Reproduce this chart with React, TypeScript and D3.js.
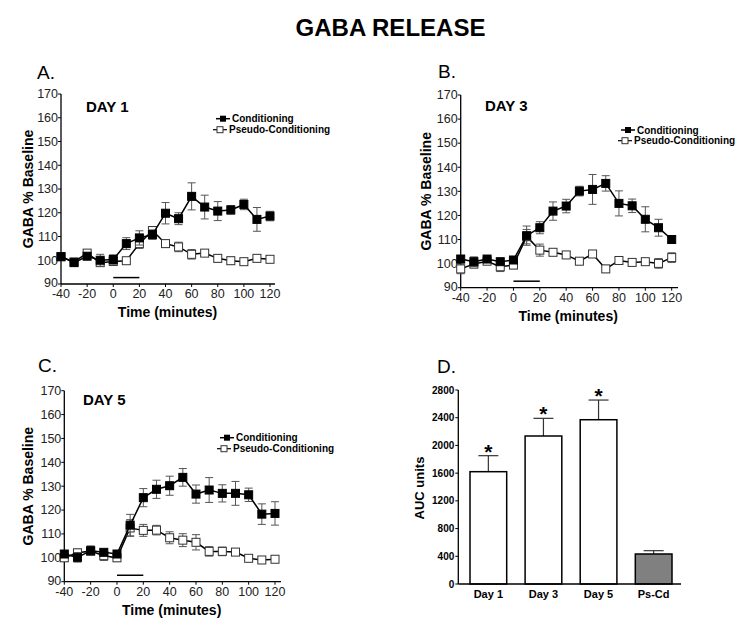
import React from "react";
import * as d3 from "d3";

const timePoints = [-40, -30, -20, -10, 0, 10, 20, 30, 40, 50, 60, 70, 80, 90, 100, 110, 120];

const day1Cond = [101.5, 99, 101.7, 100, 100.3, 107, 109.4, 110.8, 119.8, 117.5, 126.9, 122.4, 120.7, 121.2, 123.5, 117.2, 118.6];
const day1CondErr = [1, 1.5, 1, 2.5, 2, 2.5, 3, 2, 4.5, 2.5, 5.7, 5, 4, 1.8, 2.2, 5, 2];
const day1Pseudo = [101.5, 99.3, 103, 99, 99.5, 99.8, 107, 112.5, 107, 105.6, 102.5, 103, 100.8, 99.8, 99.4, 100.8, 100.4];
const day1PseudoErr = [1, 1.5, 1, 1.5, 1.5, 1, 2, 1.5, 1.5, 2, 2, 1, 1.5, 1.5, 1, 1, 1];

const day3Cond = [101.9, 100.8, 101.9, 100.8, 101.5, 111.6, 114.9, 121.8, 123.9, 130.1, 130.8, 133.3, 125, 124, 118.4, 114.9, 110];
const day3CondErr = [1.5, 2, 1, 1, 1, 4, 2.5, 3.8, 2.8, 2, 6.2, 3.2, 5.2, 2.8, 5.2, 3.5, 1];
const day3Pseudo = [97.8, 99.8, 101, 98.7, 99.4, 111.2, 105.6, 104.7, 103.6, 101, 104, 97.8, 101.3, 100.5, 100.8, 100.1, 102.5];
const day3PseudoErr = [2, 1.5, 1, 2, 1.5, 3, 2.5, 1, 1, 1, 1, 1.5, 1, 1, 1, 2, 2];

const day5Cond = [101.6, 100.2, 103, 102.3, 101.6, 113.7, 125.2, 128.7, 130.2, 133.7, 126.7, 128.4, 127, 127, 126.4, 118.3, 118.6];
const day5CondErr = [1.2, 2, 2, 1, 1, 4.5, 3.8, 3.8, 4, 3.7, 3.8, 5.2, 3.6, 5, 2.8, 4.3, 4.9];
const day5Pseudo = [100, 102.1, 102.8, 100.9, 100, 112.5, 111.5, 111.6, 108.4, 107.4, 106.5, 102.7, 102.7, 102.4, 99.8, 99.1, 99.4];
const day5PseudoErr = [1.5, 1.5, 1.5, 2, 1.5, 3.5, 2.5, 2, 2.5, 2.7, 3.2, 2, 1.8, 1, 1, 1, 1];

const yTicksLine = [90, 100, 110, 120, 130, 140, 150, 160, 170];
const xTicksLine = [-40, -20, 0, 20, 40, 60, 80, 100, 120];
const stimulus = [0, 20];
const stimulusLevel = 92.7;

const aucCategories = ["Day 1", "Day 3", "Day 5", "Ps-Cd"];
const aucValues = [1621, 2136, 2371, 433];
const aucErr = [231, 255, 284, 48];
const aucSignificant = [true, true, true, false];
const aucTicks = [0, 400, 800, 1200, 1600, 2000, 2400, 2800];

const FONT = "'Liberation Sans', Arial, Helvetica, sans-serif";

type LineProps = {
  left: number; right: number; top: number; bottom: number; axisEnd: number; titleOff: number;
  cond: number[]; condErr: number[]; pseudo: number[]; pseudoErr: number[];
  day: string; dayX: number; dayY: number;
  letter: string; letterX: number; letterY: number;
  legX: number; legY: number; legGap: number;
};

function LinePanel(p: LineProps) {
  const x = d3.scaleLinear().domain([-40, 120]).range([p.left, p.right]);
  const y = d3.scaleLinear().domain([90, 170]).range([p.bottom, p.top]);
  const line = d3.line<number>().x((_, i) => x(timePoints[i])).y((d) => y(d));
  const errColor = "#555";
  const sq = 8;
  const series = [
    { vals: p.pseudo, err: p.pseudoErr, filled: false },
    { vals: p.cond, err: p.condErr, filled: true },
  ];
  return (
    <g>
      <text x={p.letterX} y={p.letterY} fontSize={19} fontFamily={FONT}>{p.letter}</text>
      <text x={p.dayX} y={p.dayY} fontSize={15} fontWeight="bold" fontFamily={FONT}>{p.day}</text>
      <line x1={p.left} x2={p.left} y1={p.top} y2={p.bottom} stroke="#000" strokeWidth={1.3} />
      <line x1={p.left} x2={p.axisEnd} y1={p.bottom} y2={p.bottom} stroke="#000" strokeWidth={1.3} />
      {yTicksLine.map((t) => (
        <g key={"y" + t}>
          <line x1={p.left - 3} x2={p.left} y1={y(t)} y2={y(t)} stroke="#000" strokeWidth={1} />
          <text x={p.left - 3} y={y(t) + (t === 90 ? 3 : 4.3)} fontSize={12.5} textAnchor="end" fontFamily={FONT} fill="#222">{t}</text>
        </g>
      ))}
      {xTicksLine.map((t) => (
        <g key={"x" + t}>
          <line x1={x(t)} x2={x(t)} y1={p.bottom} y2={p.bottom + 3} stroke="#000" strokeWidth={1} />
          <text x={x(t)} y={p.bottom + 14} fontSize={12.5} textAnchor="middle" fontFamily={FONT} fill="#222">{t}</text>
        </g>
      ))}
      <text x={(p.left + p.right) / 2 + 2} y={p.bottom + 33} fontSize={14} fontWeight="bold" textAnchor="middle" fontFamily={FONT}>Time (minutes)</text>
      <text transform={`translate(${p.left - p.titleOff},${(p.top + p.bottom) / 2}) rotate(-90)`} fontSize={14} fontWeight="bold" textAnchor="middle" fontFamily={FONT}>GABA % Baseline</text>
      <line x1={x(stimulus[0])} x2={x(stimulus[1])} y1={y(stimulusLevel)} y2={y(stimulusLevel)} stroke="#000" strokeWidth={1.5} />
      {series.map((s, si) => (
        <g key={si}>
          {s.vals.map((v, i) => (
            <g key={i} stroke={errColor} strokeWidth={1}>
              <line x1={x(timePoints[i])} x2={x(timePoints[i])} y1={y(v - s.err[i])} y2={y(v + s.err[i])} />
              <line x1={x(timePoints[i]) - 4} x2={x(timePoints[i]) + 4} y1={y(v + s.err[i])} y2={y(v + s.err[i])} />
              <line x1={x(timePoints[i]) - 4} x2={x(timePoints[i]) + 4} y1={y(v - s.err[i])} y2={y(v - s.err[i])} />
            </g>
          ))}
          <path d={line(s.vals) || ""} fill="none" stroke="#000" strokeWidth={1.5} />
          {s.vals.map((v, i) => (
            <rect key={"r" + i} x={x(timePoints[i]) - sq / 2} y={y(v) - sq / 2} width={sq} height={sq}
              fill={s.filled ? "#000" : "#fff"} stroke={s.filled ? "#000" : "#333"} strokeWidth={1} />
          ))}
        </g>
      ))}
      <g>
        <line x1={p.legX} x2={p.legX + 14} y1={p.legY} y2={p.legY} stroke="#000" strokeWidth={1.5} />
        <rect x={p.legX + 4} y={p.legY - 3} width={6} height={6} fill="#000" />
        <text x={p.legX + 16} y={p.legY + 3.5} fontSize={10} fontWeight="bold" fontFamily={FONT}>Conditioning</text>
        <line x1={p.legX - 3} x2={p.legX + 11} y1={p.legY + p.legGap} y2={p.legY + p.legGap} stroke="#000" strokeWidth={1.2} />
        <rect x={p.legX + 1} y={p.legY + p.legGap - 3} width={6} height={6} fill="#fff" stroke="#333" strokeWidth={1} />
        <text x={p.legX + 13} y={p.legY + p.legGap + 3.5} fontSize={10} fontWeight="bold" fontFamily={FONT}>Pseudo-Conditioning</text>
      </g>
    </g>
  );
}

function BarPanel() {
  const left = 458.3, axisEnd = 681, top = 390, bottom = 584;
  const y = d3.scaleLinear().domain([0, 2800]).range([bottom, top]);
  const x = d3.scaleBand<string>().domain(aucCategories).range([470, 672]).paddingInner(0.334).paddingOuter(0);
  const bw = x.bandwidth();
  return (
    <g>
      <text x={437} y={373} fontSize={19} fontFamily={FONT}>D.</text>
      {aucCategories.map((c, i) => {
        const cx = (x(c) as number) + bw / 2;
        const errTop = y(aucValues[i] + aucErr[i]);
        return (
          <g key={c}>
            <line x1={cx} x2={cx} y1={y(aucValues[i])} y2={errTop} stroke="#333" strokeWidth={1.2} />
            <line x1={cx - 10} x2={cx + 10} y1={errTop} y2={errTop} stroke="#333" strokeWidth={1.2} />
            <rect x={x(c)} y={y(aucValues[i])} width={bw} height={bottom - y(aucValues[i])}
              fill={i === 3 ? "#808080" : "#fff"} stroke="#000" strokeWidth={1.5} />
            {aucSignificant[i] && (
              <text x={cx} y={errTop + 3} fontSize={21} fontWeight="bold" textAnchor="middle" fontFamily={FONT}>*</text>
            )}
            <text x={cx} y={bottom + 14} fontSize={11} fontWeight="bold" textAnchor="middle" fontFamily={FONT}>{c}</text>
          </g>
        );
      })}
      <line x1={left} x2={left} y1={top} y2={bottom} stroke="#000" strokeWidth={1.3} />
      <line x1={left} x2={axisEnd} y1={bottom} y2={bottom} stroke="#000" strokeWidth={1.3} />
      {aucTicks.map((t) => (
        <g key={t}>
          <line x1={left - 3} x2={left} y1={y(t)} y2={y(t)} stroke="#000" strokeWidth={1} />
          <text x={left - 4} y={y(t) + 3.5} fontSize={10} fontWeight="bold" textAnchor="end" fontFamily={FONT}>{t}</text>
        </g>
      ))}
      <text transform={`translate(${424},${488}) rotate(-90)`} fontSize={13} fontWeight="bold" textAnchor="middle" fontFamily={FONT}>AUC units</text>
    </g>
  );
}

export default function App() {
  return (
    <svg width={738} height={625} style={{ position: "absolute", left: 0, top: 0, background: "#fff" }}>
      <rect width={738} height={625} fill="#fff" />
      <text x={390.5} y={36} fontSize={24} fontWeight="bold" textAnchor="middle" fontFamily={FONT}>GABA RELEASE</text>
      <LinePanel left={61} right={270} top={94} bottom={284} axisEnd={275} titleOff={28}
        cond={day1Cond} condErr={day1CondErr} pseudo={day1Pseudo} pseudoErr={day1PseudoErr}
        day="DAY 1" dayX={86} dayY={112} letter="A." letterX={37} letterY={79}
        legX={216} legY={118.7} legGap={11} />
      <LinePanel left={460.7} right={671.7} top={95} bottom={287.7} axisEnd={678} titleOff={30}
        cond={day3Cond} condErr={day3CondErr} pseudo={day3Pseudo} pseudoErr={day3PseudoErr}
        day="DAY 3" dayX={485} dayY={111} letter="B." letterX={438} letterY={78}
        legX={621} legY={130} legGap={10.7} />
      <LinePanel left={64.3} right={275} top={390.7} bottom={581.7} axisEnd={281} titleOff={31}
        cond={day5Cond} condErr={day5CondErr} pseudo={day5Pseudo} pseudoErr={day5PseudoErr}
        day="DAY 5" dayX={83} dayY={405} letter="C." letterX={38} letterY={372}
        legX={220} legY={437.7} legGap={11} />
      <BarPanel />
    </svg>
  );
}
